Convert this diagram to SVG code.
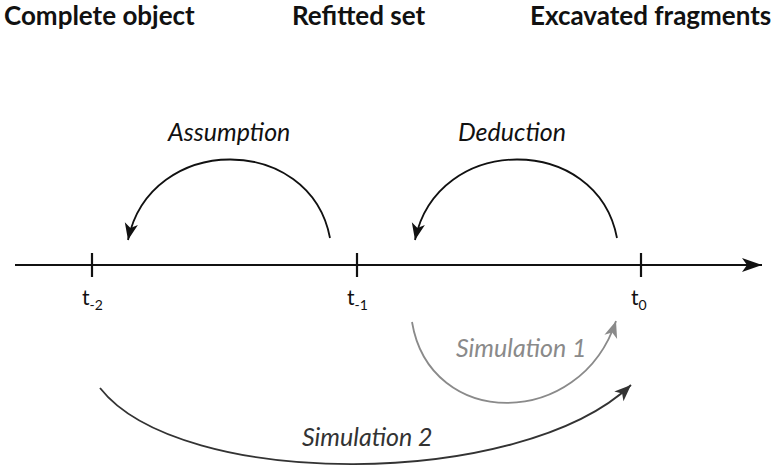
<svg xmlns="http://www.w3.org/2000/svg" width="777" height="468" viewBox="0 0 777 468">
  <style>
    .title { font-family: Lato, "Open Sans", "Liberation Sans", sans-serif; font-weight: bold; font-size: 26px; fill: #111; }
    .lbl { font-family: Lato, "Open Sans", "Liberation Sans", sans-serif; font-style: italic; font-size: 25px; }
    .tick-lbl { font-family: Lato, "Open Sans", "Liberation Sans", sans-serif; font-size: 21px; fill: #111; }
    .sub { font-size: 14px; }
    .axis { stroke: #111; stroke-width: 2.2; fill: none; }
    .arc { stroke: #111; stroke-width: 1.8; fill: none; }
  </style>
  <defs>
    <marker id="ahBlack" markerUnits="userSpaceOnUse" markerWidth="20" markerHeight="20" refX="0" refY="0" viewBox="-16 -8 18 16" orient="auto" overflow="visible">
      <path d="M0,0 L-15,-6 L-11,0 L-15,6 Z" fill="#111"/>
    </marker>
    <marker id="ahAxis" markerUnits="userSpaceOnUse" markerWidth="22" markerHeight="20" refX="0" refY="0" viewBox="-20 -8 22 16" orient="auto" overflow="visible">
      <path d="M0,0 L-20,-7 L-15,0 L-20,7 Z" fill="#111"/>
    </marker>
    <marker id="ahGrey" markerUnits="userSpaceOnUse" markerWidth="20" markerHeight="20" refX="0" refY="0" viewBox="-16 -8 18 16" orient="auto" overflow="visible">
      <path d="M0,0 L-15,-6 L-11,0 L-15,6 Z" fill="#8a8a8a"/>
    </marker>
    <marker id="ahDark" markerUnits="userSpaceOnUse" markerWidth="20" markerHeight="20" refX="0" refY="0" viewBox="-16 -8 18 16" orient="auto" overflow="visible">
      <path d="M0,0 L-15,-6 L-11,0 L-15,6 Z" fill="#333"/>
    </marker>
  </defs>

  <g id="titles">
    <text class="title" x="4" y="25">Complete object</text>
    <text class="title" x="292" y="25">Refitted set</text>
    <text class="title" x="530" y="25">Excavated fragments</text>
  </g>

  <g id="axis">
    <line class="axis" x1="15" y1="265" x2="762" y2="265" marker-end="url(#ahAxis)"/>
  </g>

  <g id="t-2">
    <line class="axis" x1="92" y1="253" x2="92" y2="277"/>
    <text class="tick-lbl" x="82" y="305">t<tspan class="sub" dy="5">-2</tspan></text>
  </g>
  <g id="t-1">
    <line class="axis" x1="357" y1="253" x2="357" y2="277"/>
    <text class="tick-lbl" x="347" y="305">t<tspan class="sub" dy="5">-1</tspan></text>
  </g>
  <g id="t0">
    <line class="axis" x1="641" y1="253" x2="641" y2="277"/>
    <text class="tick-lbl" x="631" y="305">t<tspan class="sub" dy="5">0</tspan></text>
  </g>

  <g id="connectors">
    <path class="arc" d="M330,238 C310,133 150,133 128,240" marker-end="url(#ahBlack)"/>
    <path class="arc" d="M617,238 C597,133 437,133 415,240" marker-end="url(#ahBlack)"/>
    <path d="M412,322 C430,430 580,430 616,321" fill="none" stroke="#8a8a8a" stroke-width="1.8" marker-end="url(#ahGrey)"/>
    <path d="M100,388 C180,490 520,490 631,385" fill="none" stroke="#333" stroke-width="1.8" marker-end="url(#ahDark)"/>
  </g>

  <g id="labels">
    <text class="lbl" x="168" y="141" fill="#111">Assumption</text>
    <text class="lbl" x="458" y="141" fill="#111">Deduction</text>
    <text class="lbl" x="456" y="357" fill="#8a8a8a">Simulation 1</text>
    <text class="lbl" x="302" y="446" fill="#333">Simulation 2</text>
  </g>
</svg>
